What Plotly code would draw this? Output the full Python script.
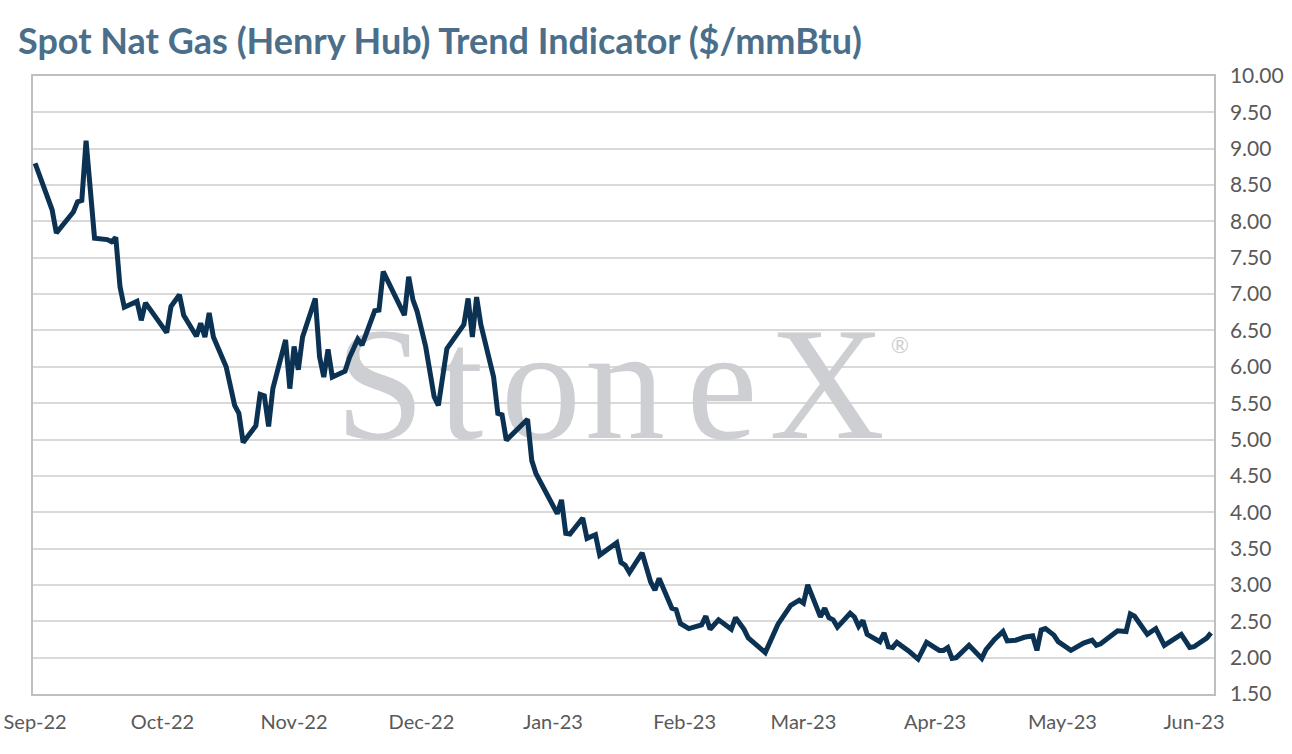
import pandas as pd
import plotly.graph_objects as go

# spot price (trading-day vertices)
dates = [
    "2022-09-01", "2022-09-05", "2022-09-06", "2022-09-10", "2022-09-11", "2022-09-12",
    "2022-09-13", "2022-09-15", "2022-09-18", "2022-09-19", "2022-09-20", "2022-09-21",
    "2022-09-22", "2022-09-25", "2022-09-26", "2022-09-27", "2022-10-02", "2022-10-03",
    "2022-10-05", "2022-10-06", "2022-10-09", "2022-10-10", "2022-10-11", "2022-10-12",
    "2022-10-13", "2022-10-16", "2022-10-18", "2022-10-19", "2022-10-20", "2022-10-23",
    "2022-10-24", "2022-10-25", "2022-10-26", "2022-10-27", "2022-10-30", "2022-10-31",
    "2022-11-01", "2022-11-02", "2022-11-03", "2022-11-06", "2022-11-07", "2022-11-08",
    "2022-11-09", "2022-11-10", "2022-11-13", "2022-11-14", "2022-11-16", "2022-11-17",
    "2022-11-20", "2022-11-21", "2022-11-22", "2022-11-24", "2022-11-27", "2022-11-28",
    "2022-11-29", "2022-11-30", "2022-12-02", "2022-12-04", "2022-12-05", "2022-12-07",
    "2022-12-11", "2022-12-12", "2022-12-13", "2022-12-14", "2022-12-15", "2022-12-18",
    "2022-12-19", "2022-12-20", "2022-12-21", "2022-12-26", "2022-12-27", "2022-12-28",
    "2023-01-02", "2023-01-03", "2023-01-04", "2023-01-05", "2023-01-08", "2023-01-09",
    "2023-01-11", "2023-01-12", "2023-01-16", "2023-01-17", "2023-01-18", "2023-01-19",
    "2023-01-22", "2023-01-24", "2023-01-25", "2023-01-26", "2023-01-29", "2023-01-30",
    "2023-01-31", "2023-02-02", "2023-02-05", "2023-02-06", "2023-02-07", "2023-02-09",
    "2023-02-12", "2023-02-13", "2023-02-15", "2023-02-16", "2023-02-20", "2023-02-23",
    "2023-02-26", "2023-02-28", "2023-03-01", "2023-03-02", "2023-03-05", "2023-03-06",
    "2023-03-07", "2023-03-08", "2023-03-09", "2023-03-12", "2023-03-13", "2023-03-14",
    "2023-03-15", "2023-03-16", "2023-03-19", "2023-03-20", "2023-03-21", "2023-03-22",
    "2023-03-23", "2023-03-26", "2023-03-28", "2023-03-30", "2023-04-02", "2023-04-03",
    "2023-04-04", "2023-04-05", "2023-04-06", "2023-04-09", "2023-04-12", "2023-04-13",
    "2023-04-15", "2023-04-17", "2023-04-18", "2023-04-20", "2023-04-22", "2023-04-24",
    "2023-04-25", "2023-04-26", "2023-04-27", "2023-04-29", "2023-04-30", "2023-05-03",
    "2023-05-06", "2023-05-08", "2023-05-09", "2023-05-10", "2023-05-12", "2023-05-14",
    "2023-05-16", "2023-05-17", "2023-05-18", "2023-05-21", "2023-05-23", "2023-05-25",
    "2023-05-29", "2023-05-31", "2023-06-01", "2023-06-04", "2023-06-05",
]
prices = [
    8.80, 8.16, 7.84, 8.13, 8.27, 8.29,
    9.11, 7.77, 7.75, 7.72, 7.78, 7.10,
    6.82, 6.90, 6.64, 6.88, 6.47, 6.83,
    6.99, 6.71, 6.42, 6.60, 6.41, 6.74,
    6.41, 6.00, 5.47, 5.36, 4.96, 5.19,
    5.62, 5.60, 5.18, 5.70, 6.37, 5.70,
    6.28, 5.96, 6.41, 6.94, 6.14, 5.86,
    6.24, 5.86, 5.94, 6.12, 6.38, 6.30,
    6.77, 6.78, 7.31, 7.07, 6.71, 7.24,
    6.92, 6.76, 6.28, 5.59, 5.47, 6.25,
    6.58, 6.94, 6.41, 6.96, 6.58, 5.86,
    5.36, 5.34, 4.99, 5.28, 4.71, 4.53,
    3.98, 4.17, 3.71, 3.70, 3.92, 3.64,
    3.69, 3.41, 3.58, 3.31, 3.27, 3.17,
    3.44, 3.04, 2.93, 3.09, 2.68, 2.66,
    2.47, 2.40, 2.45, 2.57, 2.39, 2.52,
    2.39, 2.55, 2.39, 2.27, 2.07, 2.46,
    2.72, 2.79, 2.75, 3.00, 2.56, 2.68,
    2.55, 2.52, 2.42, 2.61, 2.56, 2.43,
    2.51, 2.32, 2.22, 2.34, 2.15, 2.14,
    2.21, 2.08, 1.98, 2.21, 2.10, 2.10,
    2.14, 1.99, 2.00, 2.17, 1.99, 2.11,
    2.25, 2.36, 2.23, 2.24, 2.28, 2.30,
    2.10, 2.38, 2.40, 2.31, 2.22, 2.10,
    2.20, 2.24, 2.17, 2.19, 2.27, 2.37,
    2.36, 2.60, 2.57, 2.32, 2.40, 2.17,
    2.32, 2.14, 2.15, 2.27, 2.34,
]

month_ticks = ["2022-09-01", "2022-10-01", "2022-11-01", "2022-12-01", "2023-01-01",
               "2023-02-01", "2023-03-01", "2023-04-01", "2023-05-01", "2023-06-01"]
month_labels = ["Sep-22", "Oct-22", "Nov-22", "Dec-22", "Jan-23",
                "Feb-23", "Mar-23", "Apr-23", "May-23", "Jun-23"]
y_ticks = [1.5 + 0.5 * i for i in range(18)]

title = "Spot Nat Gas (Henry Hub) Trend Indicator ($/mmBtu)"
font = "Lato, Open Sans, sans-serif"
grey = "#595959"
wm_grey = "#cdcfd3"

x_range = [pd.Timestamp("2022-08-31 12:00"), pd.Timestamp("2023-06-05 17:00")]
y_range = [1.5, 10.0]


def frac_x(f):
    return x_range[0] + f * (x_range[1] - x_range[0])


def frac_y(f):
    return y_range[0] + f * (y_range[1] - y_range[0])


fig = go.Figure()

# StoneX watermark, letter by letter (logo is spaced wider than the font),
# drawn as a text trace so it sits under the price line
wm_letters = ["S", "t", "o", "n", "e", "X"]
wm_pos = [0.2938, 0.3624, 0.4302, 0.5013, 0.5834, 0.6723]
fig.add_trace(go.Scatter(x=[frac_x(f) for f in wm_pos], y=[frac_y(0.479)] * len(wm_pos),
                         mode="text", text=wm_letters, textposition="middle center",
                         textfont=dict(family="Liberation Serif, serif", size=160,
                                       color=wm_grey),
                         hoverinfo="skip"))
fig.add_trace(go.Scatter(x=[frac_x(0.7341)], y=[frac_y(0.560)], mode="text", text=["®"],
                         textposition="middle center",
                         textfont=dict(family="Lato, sans-serif", size=22, color=wm_grey),
                         hoverinfo="skip"))

fig.add_trace(go.Scatter(x=dates, y=prices, mode="lines",
                         line=dict(color="#0c3253", width=5),
                         hoverinfo="x+y"))

fig.update_layout(
    width=1292, height=754,
    margin=dict(l=33, r=78, t=76, b=60),
    paper_bgcolor="white", plot_bgcolor="white",
    showlegend=False,
    title=dict(text="<b>" + title + "</b>", x=18 / 1292, xanchor="left",
               y=1 - 41 / 754, yanchor="middle",
               font=dict(family=font, size=36, color="#4b6f8a")),
    xaxis=dict(type="date", range=x_range,
               tickvals=month_ticks, ticktext=month_labels,
               tickfont=dict(family=font, size=20, color=grey),
               showgrid=False, zeroline=False, ticks="", automargin=False,
               ticklabelstandoff=9, ticklabeloverflow="allow",
               showline=True, linecolor="#bfbfbf", linewidth=1.5, mirror=True),
    yaxis=dict(side="right", range=y_range, tickvals=y_ticks,
               tickformat=".2f", automargin=False,
               tickfont=dict(family=font, size=21, color=grey),
               showgrid=True, gridcolor="#d9d9d9", gridwidth=1.5,
               zeroline=False, ticks="", ticklabelstandoff=10,
               showline=True, linecolor="#bfbfbf", linewidth=1.5, mirror=True),
)

# drop the page's default 8px body margin so the figure fills the window
fig.write_html("out.html", config={"displayModeBar": False},
               post_script="document.body.style.margin='0';")
